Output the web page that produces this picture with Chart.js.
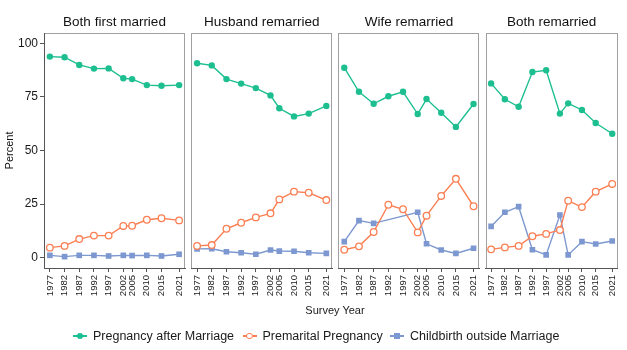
<!DOCTYPE html>
<html>
<head>
<meta charset="utf-8">
<script src="https://cdn.jsdelivr.net/npm/chart.js@4.4.1/dist/chart.umd.min.js"></script>
<style>
  body { margin: 0; background: #fff; font-family: "Liberation Sans", Arial, sans-serif; }
  #wrap { position: relative; width: 627px; height: 350px; overflow: hidden; }
  #wrap canvas { position: absolute; left: 0; top: 0; }
  #xtitle { position: absolute; left: 44px; width: 582px; top: 303px; line-height: 14px;
            text-align: center; font-size: 11px; color: #1a1a1a; }
  .leg { position: absolute; top: 328px; height: 16px; line-height: 16px; font-size: 12.5px;
         color: #1a1a1a; white-space: nowrap; }
  .key { position: absolute; left: 0; top: 0; width: 14px; height: 16px; }
  .key .ln { position: absolute; left: 0; top: 7.4px; width: 14px; height: 1.3px; }
  .key .mk { position: absolute; box-sizing: border-box; }
  .leg .txt { position: absolute; left: 20px; top: 0; }
</style>
</head>
<body>
<div id="wrap">
  <canvas id="p0" width="627" height="350"></canvas>
  <canvas id="p1" width="627" height="350"></canvas>
  <canvas id="p2" width="627" height="350"></canvas>
  <canvas id="p3" width="627" height="350"></canvas>
  <div id="xtitle">Survey Year</div>
  <div id="legend"></div>
</div>
<script>
// ---- data ----
const years = [1977, 1982, 1987, 1992, 1997, 2002, 2005, 2010, 2015, 2021];
const panelTitles = ["Both first married", "Husband remarried", "Wife remarried", "Both remarried"];
const yTicks = [0, 25, 50, 75, 100];
const seriesNames = ["Pregnancy after Marriage", "Premarital Pregnancy", "Childbirth outside Marriage"];

// one row per panel, same order as panelTitles
const afterMarriage = [
  [93.8, 93.5, 89.9, 88.2, 88.3, 83.7, 83.3, 80.5, 80.2, 80.5],
  [90.7, 89.7, 83.3, 81.2, 79.1, 75.7, 69.7, 65.9, 67.2, 70.8],
  [88.6, 77.4, 71.8, 75.3, 77.4, 67.0, 74.0, 67.6, 61.0, 71.7],
  [81.3, 73.9, 70.4, 86.6, 87.4, 67.2, 72.0, 68.9, 62.8, 57.8]
];
const premarital = [
  [4.7, 5.5, 8.7, 10.3, 10.3, 14.8, 14.9, 17.7, 18.4, 17.4],
  [5.5, 5.9, 13.5, 16.3, 18.8, 20.7, 27.2, 30.8, 30.3, 26.9],
  [3.7, 5.3, 12.0, 24.7, 22.6, 11.8, 19.6, 28.8, 36.8, 24.0],
  [3.9, 4.8, 5.5, 10.0, 11.1, 12.9, 26.6, 23.6, 30.8, 34.4]
];
const outsideMarriage = [
  [1.1, 0.5, 1.1, 1.1, 0.8, 1.1, 1.0, 1.1, 0.8, 1.6],
  [4.1, 4.2, 2.8, 2.3, 1.6, 3.6, 3.1, 3.0, 2.3, 2.0],
  [7.5, 17.3, 16.0, null, null, 21.2, 6.5, 3.6, 2.0, 4.4],
  [14.6, 21.2, 23.8, 3.7, 1.3, 19.9, 1.3, 7.5, 6.4, 7.8]
];

const GREEN = "#1dbf90";
const ORANGE = "#fb7f53";
const BLUE = "#7d98d0";

Chart.defaults.font.family = "'Liberation Sans', Arial, sans-serif";
Chart.defaults.color = "#333";

// grey frame round each panel
const panelBox = {
  id: "panelBox",
  beforeDraw(chart) {
    const a = chart.chartArea, ctx = chart.ctx;
    ctx.save();
    ctx.strokeStyle = "#a0a0a0";
    ctx.lineWidth = 1;
    ctx.strokeRect(Math.round(a.left) + 0.5, Math.round(a.top) + 0.5,
                   Math.round(a.right - a.left) - 1, Math.round(a.bottom - a.top));
    ctx.restore();
  }
};

function pts(vals) {
  return vals.map((v, i) => ({ x: years[i], y: v }));
}

function makePanel(i) {
  const left = 44 + i * 147.2;
  const right = left + 141;
  const first = i === 0;

  new Chart(document.getElementById("p" + i), {
    type: "line",
    data: {
      datasets: [
        { label: seriesNames[0], data: pts(afterMarriage[i]), borderColor: GREEN, backgroundColor: GREEN,
          pointStyle: "circle", pointRadius: 3.2, borderWidth: 1.4, pointBorderWidth: 0 },
        { label: seriesNames[1], data: pts(premarital[i]), borderColor: ORANGE, backgroundColor: "#fff",
          pointStyle: "circle", pointRadius: 3.3, borderWidth: 1.4, pointBorderWidth: 1.3 },
        { label: seriesNames[2], data: pts(outsideMarriage[i]), borderColor: BLUE, backgroundColor: BLUE,
          pointStyle: "rect", pointRadius: 4, borderWidth: 1.4, pointBorderWidth: 0, spanGaps: true }
      ]
    },
    options: {
      responsive: false,
      animation: false,
      events: [],
      layout: { padding: { left: first ? 0 : left, right: 627 - right, top: 0, bottom: 40 } },
      plugins: {
        legend: { display: false },
        tooltip: { enabled: false },
        title: {
          display: true, text: panelTitles[i], fullSize: false, color: "#111",
          font: { size: 13.5, weight: "normal" }, padding: { top: 14, bottom: 2.8 }
        }
      },
      scales: {
        x: {
          type: "linear", min: 1975, max: 2023,
          afterBuildTicks: s => { s.ticks = years.map(v => ({ value: v })); },
          afterFit: s => { s.height = 42; },
          grid: { drawOnChartArea: false, tickLength: 4, color: "#555" },
          border: { color: "#555" },
          ticks: { autoSkip: false, minRotation: 90, maxRotation: 90, padding: 3,
                   font: { size: 9.5 }, color: "#1a1a1a", callback: v => String(v) }
        },
        y: {
          display: first,
          min: -4.8, max: 104.8,
          afterBuildTicks: s => { s.ticks = yTicks.map(v => ({ value: v })); },
          afterFit: s => { s.width = first ? 44 : 0; },
          grid: { drawOnChartArea: false, tickLength: 4, color: "#555" },
          border: { color: "#555" },
          ticks: { padding: 2, font: { size: 12 }, color: "#1a1a1a" },
          title: { display: true, text: "Percent", color: "#111", font: { size: 11 }, padding: { top: 3.5, bottom: 0 } }
        }
      }
    },
    plugins: [panelBox]
  });
}

for (let i = 0; i < 4; i++) makePanel(i);

// ---- shared legend below the panels ----
const legendPos = [73, 242.5, 390];
const legendColors = [GREEN, ORANGE, BLUE];
const legendEl = document.getElementById("legend");
seriesNames.forEach((name, i) => {
  const c = legendColors[i];
  let mk;
  if (i === 0) mk = `<span class="mk" style="left:3.8px;top:4.9px;width:6.4px;height:6.4px;border-radius:50%;background:${c}"></span>`;
  else if (i === 1) mk = `<span class="mk" style="left:3.6px;top:4.6px;width:6.8px;height:6.8px;border-radius:50%;background:#fff;border:1.3px solid ${c}"></span>`;
  else mk = `<span class="mk" style="left:4.2px;top:5.2px;width:5.6px;height:5.6px;background:${c}"></span>`;
  legendEl.insertAdjacentHTML("beforeend",
    `<div class="leg" style="left:${legendPos[i]}px"><span class="key"><span class="ln" style="background:${c}"></span>${mk}</span><span class="txt">${name}</span></div>`);
});
</script>
</body>
</html>
